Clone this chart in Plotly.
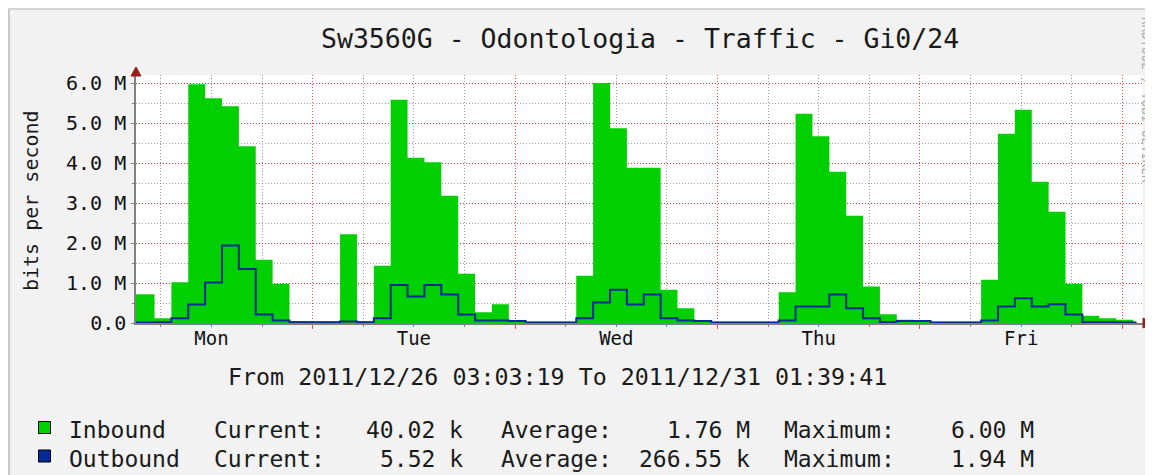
import plotly.graph_objects as go
import pandas as pd

# ---------------- data ----------------
start_time = "2011-12-26 03:03:19"
end_time = "2011-12-31 01:39:41"
first_bin_edge = "2011-12-26 05:15:00"
bin_hours = 2

# inbound traffic, Mbit/s (one value per 2-hour step)
inbound_mbps = [
    0.72, 0.12, 1.02, 5.97, 5.62, 5.42, 4.42, 1.58, 0.98, 0.05,
    0.04, 0.04, 2.22, 0.04, 1.43, 5.58, 4.13, 4.02, 3.18, 1.23,
    0.27, 0.47, 0.06, 0.03, 0.03, 0.03, 1.18, 6.00, 4.87, 3.88,
    3.88, 0.83, 0.37, 0.04, 0.03, 0.03, 0.03, 0.03, 0.77, 5.23,
    4.67, 3.78, 2.68, 0.91, 0.22, 0.08, 0.06, 0.03, 0.03, 0.03,
    1.08, 4.73, 5.33, 3.53, 2.78, 0.98, 0.18, 0.12, 0.08, 0.04,
]
# outbound traffic, Mbit/s
outbound_mbps = [
    0.01, 0.02, 0.12, 0.46, 1.01, 1.94, 1.35, 0.21, 0.06, 0.02,
    0.02, 0.02, 0.04, 0.02, 0.12, 0.95, 0.66, 0.95, 0.71, 0.21,
    0.06, 0.06, 0.05, 0.01, 0.01, 0.01, 0.12, 0.51, 0.83, 0.46,
    0.71, 0.12, 0.06, 0.05, 0.01, 0.01, 0.01, 0.01, 0.06, 0.41,
    0.41, 0.71, 0.37, 0.12, 0.02, 0.05, 0.05, 0.01, 0.01, 0.01,
    0.06, 0.41, 0.62, 0.41, 0.47, 0.21, 0.02, 0.02, 0.01, 0.0055,
]

day_labels = ["Mon", "Tue", "Wed", "Thu", "Fri"]
day_noons = ["2011-12-26 12:00", "2011-12-27 12:00", "2011-12-28 12:00",
             "2011-12-29 12:00", "2011-12-30 12:00"]
midnights = ["2011-12-27", "2011-12-28", "2011-12-29", "2011-12-30", "2011-12-31"]

y_tick_values = [0, 1e6, 2e6, 3e6, 4e6, 5e6, 6e6]
y_tick_labels = ["0.0", "1.0 M", "2.0 M", "3.0 M", "4.0 M", "5.0 M", "6.0 M"]

legend_names = ["Inbound", "Outbound"]
legend_colors = ["#00CF00", "#002A97"]
current_vals = ["40.02 k", "5.52 k"]
average_vals = ["1.76 M", "266.55 k"]
maximum_vals = ["6.00 M", "1.94 M"]

title_text = "Sw3560G - Odontologia - Traffic - Gi0/24"
period_text = "From 2011/12/26 03:03:19 To 2011/12/31 01:39:41"
watermark = "RRDTOOL / TOBI OETIKER"

# ---------------- layout geometry (page pixels) ----------------
PAGE_W, PAGE_H = 1153, 475
OFF = 8                      # default body margin of the html page
FIG_W, FIG_H = PAGE_W - OFF, PAGE_H - OFF
PL, PR, PT, PB = 136, 1143, 75, 323   # plot area in page pixels
PX_PER_HOUR = 8.435
FONT = "DejaVu Sans Mono"


def px(x):
    return (x - PL) / (PR - PL)


def py(y):
    return (PB - y) / (PB - PT)


t0 = pd.Timestamp(start_time)
t_end = pd.Timestamp(end_time)
t_axis_end = t0 + pd.Timedelta(hours=(PR - PL) / PX_PER_HOUR)
edge0 = pd.Timestamp(first_bin_edge)
n = len(inbound_mbps)
bin_starts = [t0] + [edge0 + pd.Timedelta(hours=bin_hours * k) for k in range(n - 1)]
xs = bin_starts + [t_end]
y_in = [v * 1e6 for v in inbound_mbps] + [inbound_mbps[-1] * 1e6]
y_out = [v * 1e6 for v in outbound_mbps] + [outbound_mbps[-1] * 1e6]

# minor 6-hour grid positions (excluding midnights)
minor_vals = []
d = pd.Timestamp("2011-12-26")
while d < t_axis_end:
    for h in (6, 12, 18):
        t = d + pd.Timedelta(hours=h)
        if t0 < t < t_axis_end:
            minor_vals.append(t)
    d += pd.Timedelta(days=1)

fig = go.Figure()
fig.add_trace(go.Scatter(
    x=xs, y=y_in, mode="lines", line=dict(width=0, shape="hv"),
    fill="tozeroy", fillcolor="#00CF00", name="Inbound", showlegend=False,
    hoverinfo="skip"))
fig.add_trace(go.Scatter(
    x=xs, y=y_out, mode="lines", line=dict(width=2, shape="hv", color="#002A97"),
    name="Outbound", showlegend=False, xaxis="x2", hoverinfo="skip"))

RED_GRID = "rgba(255,0,0,0.7)"
GRAY_GRID = "rgba(120,120,120,0.7)"
AXIS_COL = "#808080"

fig.update_layout(
    width=FIG_W, height=FIG_H,
    margin=dict(l=PL - OFF, r=PAGE_W - PR, t=PT - OFF, b=PAGE_H - PB, autoexpand=False),
    paper_bgcolor="#F2F2F2", plot_bgcolor="#FFFFFF",
    font=dict(family=FONT, color="#111111"),
    xaxis=dict(
        range=[t0, t_axis_end], type="date",
        tickmode="array", tickvals=midnights, showticklabels=False,
        ticks="outside", ticklen=4, tickcolor="rgba(255,0,0,0.7)",
        showgrid=True, gridcolor=RED_GRID, griddash="1px,2px", gridwidth=1,
        minor=dict(tickmode="array", tickvals=minor_vals, showgrid=True,
                   gridcolor=GRAY_GRID, griddash="1px,2px", gridwidth=1,
                   ticks="outside", ticklen=2, tickcolor=AXIS_COL),
        showline=True, linecolor=AXIS_COL, linewidth=1.5,
        zeroline=False, automargin=False, fixedrange=True,
    ),
    xaxis2=dict(
        range=[t0, t_axis_end], type="date", overlaying="x", side="bottom",
        tickmode="array", tickvals=day_noons, ticktext=day_labels,
        tickfont=dict(family=FONT, size=19, color="#111111"),
        ticks="", showgrid=False, showline=False, zeroline=False,
        automargin=False, ticklabelstandoff=2,
    ),
    yaxis=dict(
        range=[0, 6.2e6], tickmode="array", tickvals=y_tick_values,
        ticktext=y_tick_labels,
        tickfont=dict(family=FONT, size=20, color="#111111"),
        ticks="outside", ticklen=3, tickcolor=AXIS_COL,
        showgrid=True, gridcolor=RED_GRID, griddash="1px,2px", gridwidth=1,
        minor=dict(dtick=0.5e6, showgrid=True, gridcolor=GRAY_GRID,
                   griddash="1px,2px", gridwidth=1, ticks="outside",
                   ticklen=2, tickcolor=AXIS_COL),
        showline=True, linecolor=AXIS_COL, linewidth=1.5,
        zeroline=False, automargin=False, ticklabelstandoff=1,
    ),
)

shapes = []
# frame lines of the graph image (left and top edges)
shapes.append(dict(type="line", xref="paper", yref="paper",
                   x0=px(9), x1=px(9), y0=py(OFF), y1=py(PAGE_H),
                   line=dict(color="#C8C8C8", width=2), layer="below"))
shapes.append(dict(type="line", xref="paper", yref="paper",
                   x0=px(OFF), x1=px(PAGE_W), y0=py(9), y1=py(9),
                   line=dict(color="#D4D4D4", width=2), layer="below"))
# axis arrows
ARROW = "#9A1C1C"
shapes.append(dict(type="path", xref="paper", yref="paper",
                   path=f"M {px(PL - 5)},{py(76)} L {px(PL + 5)},{py(76)} L {px(PL)},{py(67)} Z",
                   fillcolor=ARROW, line=dict(color=ARROW, width=1)))
shapes.append(dict(type="path", xref="paper", yref="paper",
                   path=f"M {px(PR)},{py(PB - 5)} L {px(PR)},{py(PB + 5)} L {px(PR + 10)},{py(PB)} Z",
                   fillcolor=ARROW, line=dict(color=ARROW, width=1)))
# legend swatches
for i, col in enumerate(legend_colors):
    yc = 427.5 + 28.5 * i
    shapes.append(dict(type="rect", xref="paper", yref="paper",
                       x0=px(38.5), x1=px(50.5), y0=py(yc - 6), y1=py(yc + 6),
                       fillcolor=col, line=dict(color="#000000", width=1)))
fig.update_layout(shapes=shapes)

ann = []
ann.append(dict(text=title_text, xref="paper", yref="paper", x=px(640), y=py(38),
                xanchor="center", yanchor="middle", showarrow=False,
                font=dict(family=FONT, size=26.5, color="#1a1a1a")))
ann.append(dict(text="bits per second", xref="paper", yref="paper", x=px(31), y=py(201),
                xanchor="center", yanchor="middle", showarrow=False, textangle=-90,
                font=dict(family=FONT, size=20, color="#1a1a1a")))
ann.append(dict(text=period_text, xref="paper", yref="paper", x=px(557), y=py(376),
                xanchor="center", yanchor="middle", showarrow=False,
                font=dict(family=FONT, size=23.3, color="#1a1a1a")))
ann.append(dict(text=watermark, xref="paper", yref="paper", x=px(1147), y=py(100),
                xanchor="center", yanchor="middle", showarrow=False, textangle=90,
                font=dict(family=FONT, size=12.5, color="#A8A8A8")))

for i in range(len(legend_names)):
    yc = py(430 + 28.5 * i)
    f = dict(family=FONT, size=23, color="#1a1a1a")
    ann.append(dict(text=legend_names[i], xref="paper", yref="paper", x=px(67), y=yc,
                    xanchor="left", yanchor="middle", showarrow=False, font=f))
    ann.append(dict(text="Current:", xref="paper", yref="paper", x=px(212), y=yc,
                    xanchor="left", yanchor="middle", showarrow=False, font=f))
    ann.append(dict(text=current_vals[i], xref="paper", yref="paper", x=px(465), y=yc,
                    xanchor="right", yanchor="middle", showarrow=False, font=f))
    ann.append(dict(text="Average:", xref="paper", yref="paper", x=px(499), y=yc,
                    xanchor="left", yanchor="middle", showarrow=False, font=f))
    ann.append(dict(text=average_vals[i], xref="paper", yref="paper", x=px(752), y=yc,
                    xanchor="right", yanchor="middle", showarrow=False, font=f))
    ann.append(dict(text="Maximum:", xref="paper", yref="paper", x=px(782), y=yc,
                    xanchor="left", yanchor="middle", showarrow=False, font=f))
    ann.append(dict(text=maximum_vals[i], xref="paper", yref="paper", x=px(1036), y=yc,
                    xanchor="right", yanchor="middle", showarrow=False, font=f))
fig.update_layout(annotations=ann)

fig.write_html("out.html")
